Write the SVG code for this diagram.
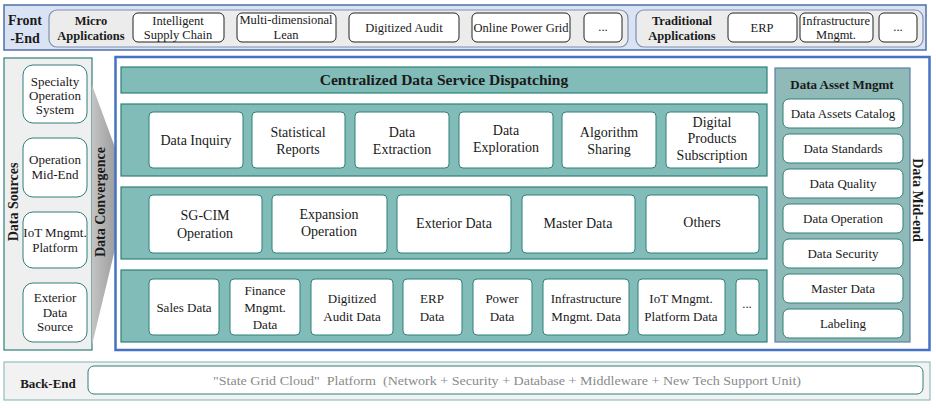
<svg xmlns="http://www.w3.org/2000/svg" width="936" height="408" viewBox="0 0 936 408">
<defs>
<linearGradient id="conv" x1="0" y1="0" x2="1" y2="0">
<stop offset="0" stop-color="#c4c4c4"/>
<stop offset="1" stop-color="#9c9c9c"/>
</linearGradient>
<style>
text{font-family:"Liberation Serif","Times New Roman",serif;fill:#1a1a1a;text-anchor:middle}
.b{font-weight:bold}
.t12{font-size:12.5px}
.t13{font-size:13px}
.t14{font-size:14px}
.wb{fill:#fff;stroke:#222;stroke-width:1}
.tb{fill:#fff;stroke:#2e8079;stroke-width:1}
.band{fill:#82bcb8;stroke:#2e8079;stroke-width:1.2}
.sub{fill:#ececec;stroke:#7d8fb3;stroke-width:1.2}
</style>
</defs>
<rect width="936" height="408" fill="#fff"/>

<!-- Front-End -->
<g id="front-end">
<rect x="4" y="5" width="922" height="45" fill="#dae3f3" stroke="#4f6fa8" stroke-width="1.5"/>
<text class="b t14" x="25" y="25">Front</text>
<text class="b t14" x="25" y="43">-End</text>
</g>
<g id="micro-apps">
<rect class="sub" x="49" y="10" width="579" height="37" rx="8"/>
<text class="b t12" x="91" y="25">Micro</text>
<text class="b t12" x="91" y="40">Applications</text>
</g>
<g id="fe-supply"><rect class="wb" x="133" y="13" width="91" height="29" rx="5"/><text class="t12" x="178" y="25">Intelligent</text><text class="t12" x="178" y="39">Supply Chain</text></g>
<g id="fe-lean"><rect class="wb" x="237" y="13" width="99" height="29" rx="5"/><text class="t12" x="286" y="24">Multi-dimensional</text><text class="t12" x="286" y="39">Lean</text></g>
<g id="fe-audit"><rect class="wb" x="349" y="13" width="110" height="29" rx="5"/><text class="t12" x="404" y="32">Digitized Audit</text></g>
<g id="fe-grid"><rect class="wb" x="472" y="13" width="98" height="29" rx="5"/><text class="t12" x="521" y="32">Online Power Grid</text></g>
<g id="fe-more1"><rect class="wb" x="584" y="13" width="38" height="29" rx="5"/><text class="t12" x="603" y="31">...</text></g>
<g id="trad-apps">
<rect class="sub" x="636" y="10" width="287" height="37" rx="8"/>
<text class="b t12" x="682" y="25">Traditional</text>
<text class="b t12" x="682" y="40">Applications</text>
</g>
<g id="fe-erp"><rect class="wb" x="728" y="13" width="69" height="29" rx="5"/><text class="t12" x="762" y="32">ERP</text></g>
<g id="fe-infra"><rect class="wb" x="800" y="13" width="73" height="29" rx="5"/><text class="t12" x="836" y="25">Infrastructure</text><text class="t12" x="836" y="39">Mngmt.</text></g>
<g id="fe-more2"><rect class="wb" x="879" y="13" width="38" height="29" rx="5"/><text class="t12" x="898" y="31">...</text></g>

<!-- Data Sources -->
<g id="data-sources">
<rect x="4" y="58" width="88" height="292" fill="#efefef" stroke="#2e8079" stroke-width="1.2"/>
<text class="b t14" transform="translate(18,202) rotate(-90)">Data Sources</text>
</g>
<g id="src-specialty"><rect class="tb" x="23" y="65" width="64" height="58" rx="10"/><text class="t13" x="55" y="86">Specialty</text><text class="t13" x="55" y="100">Operation</text><text class="t13" x="55" y="114">System</text></g>
<g id="src-midend"><rect class="tb" x="23" y="138" width="64" height="59" rx="10"/><text class="t13" x="55" y="164">Operation</text><text class="t13" x="55" y="179">Mid-End</text></g>
<g id="src-iot"><rect class="tb" x="23" y="212" width="64" height="56" rx="10"/><text class="t13" x="55" y="237">IoT Mngmt.</text><text class="t13" x="55" y="252">Platform</text></g>
<g id="src-exterior"><rect class="tb" x="23" y="283" width="64" height="59" rx="10"/><text class="t13" x="55" y="302">Exterior</text><text class="t13" x="55" y="317">Data</text><text class="t13" x="55" y="331">Source</text></g>

<!-- Data Convergence -->
<g id="data-convergence">
<polygon points="92,85 116,150 116,245 92,345" fill="url(#conv)"/>
<text class="b t14" transform="translate(105,202) rotate(-90)">Data Convergence</text>
</g>

<!-- Data Mid-end -->
<g id="data-mid-end">
<rect x="115.5" y="57" width="814" height="293" fill="#fff" stroke="#4472c4" stroke-width="2.5"/>
<text class="b t14" transform="translate(913,200) rotate(90)">Data Mid-end</text>
</g>
<g id="dispatching">
<rect class="band" x="121" y="67" width="646" height="26"/>
<text class="b" style="font-size:15.5px" x="444" y="85">Centralized Data Service Dispatching</text>
</g>

<g id="row-services"><rect class="band" x="121" y="104" width="646" height="72"/></g>
<g id="svc-inquiry"><rect class="tb" x="149" y="112" width="94" height="56" rx="4"/><text class="t14" x="196" y="145">Data Inquiry</text></g>
<g id="svc-stat"><rect class="tb" x="252" y="112" width="93" height="56" rx="4"/><text class="t14" x="298" y="137">Statistical</text><text class="t14" x="298" y="154">Reports</text></g>
<g id="svc-extract"><rect class="tb" x="355" y="112" width="94" height="56" rx="4"/><text class="t14" x="402" y="137">Data</text><text class="t14" x="402" y="154">Extraction</text></g>
<g id="svc-explore"><rect class="tb" x="459" y="112" width="94" height="56" rx="4"/><text class="t14" x="506" y="135">Data</text><text class="t14" x="506" y="152">Exploration</text></g>
<g id="svc-algo"><rect class="tb" x="562" y="112" width="94" height="56" rx="4"/><text class="t14" x="609" y="137">Algorithm</text><text class="t14" x="609" y="154">Sharing</text></g>
<g id="svc-digital"><rect class="tb" x="666" y="112" width="93" height="56" rx="4"/><text class="t14" x="712" y="127">Digital</text><text class="t14" x="712" y="143">Products</text><text class="t14" x="712" y="160">Subscription</text></g>

<g id="row-themes"><rect class="band" x="121" y="187" width="646" height="72"/></g>
<g id="th-sgcim"><rect class="tb" x="149" y="195" width="113" height="58" rx="4"/><text class="t14" x="205" y="220">SG-CIM</text><text class="t14" x="205" y="238">Operation</text></g>
<g id="th-expansion"><rect class="tb" x="272" y="195" width="115" height="58" rx="4"/><text class="t14" x="329" y="219">Expansion</text><text class="t14" x="329" y="236">Operation</text></g>
<g id="th-exterior"><rect class="tb" x="397" y="195" width="114" height="58" rx="4"/><text class="t14" x="454" y="228">Exterior Data</text></g>
<g id="th-master"><rect class="tb" x="522" y="195" width="113" height="58" rx="4"/><text class="t14" x="578" y="228">Master Data</text></g>
<g id="th-others"><rect class="tb" x="646" y="195" width="113" height="58" rx="4"/><text class="t14" x="702" y="227">Others</text></g>

<g id="row-sources"><rect class="band" x="121" y="270" width="646" height="72"/></g>
<g id="ds-sales"><rect class="tb" x="149" y="279" width="70" height="56" rx="4"/><text class="t13" x="184" y="312">Sales Data</text></g>
<g id="ds-finance"><rect class="tb" x="230" y="279" width="70" height="56" rx="4"/><text class="t13" x="265" y="295">Finance</text><text class="t13" x="265" y="312">Mngmt.</text><text class="t13" x="265" y="329">Data</text></g>
<g id="ds-audit"><rect class="tb" x="311" y="279" width="82" height="56" rx="4"/><text class="t13" x="352" y="303">Digitized</text><text class="t13" x="352" y="321">Audit Data</text></g>
<g id="ds-erp"><rect class="tb" x="403" y="279" width="59" height="56" rx="4"/><text class="t13" x="432" y="303">ERP</text><text class="t13" x="432" y="321">Data</text></g>
<g id="ds-power"><rect class="tb" x="473" y="279" width="59" height="56" rx="4"/><text class="t13" x="502" y="303">Power</text><text class="t13" x="502" y="321">Data</text></g>
<g id="ds-infra"><rect class="tb" x="543" y="279" width="86" height="56" rx="4"/><text class="t13" x="586" y="303">Infrastructure</text><text class="t13" x="586" y="321">Mngmt. Data</text></g>
<g id="ds-iot"><rect class="tb" x="638" y="279" width="87" height="56" rx="4"/><text class="t13" x="681" y="303">IoT Mngmt.</text><text class="t13" x="681" y="321">Platform Data</text></g>
<g id="ds-more"><rect class="tb" x="736" y="279" width="23" height="56" rx="4"/><text class="t12" x="747" y="308">...</text></g>

<!-- Data Asset Mngmt -->
<g id="asset-mngmt">
<rect x="775" y="68" width="135" height="274" fill="#8fbab8" stroke="#5b7fa6" stroke-width="1.2"/>
<text class="b t13" x="842" y="89">Data Asset Mngmt</text>
</g>
<g id="am-catalog"><rect class="tb" x="783" y="99" width="120" height="29" rx="6"/><text class="t13" x="843" y="118">Data Assets Catalog</text></g>
<g id="am-standards"><rect class="tb" x="783" y="134" width="120" height="29" rx="6"/><text class="t13" x="843" y="153">Data Standards</text></g>
<g id="am-quality"><rect class="tb" x="783" y="169" width="120" height="29" rx="6"/><text class="t13" x="843" y="188">Data Quality</text></g>
<g id="am-operation"><rect class="tb" x="783" y="204" width="120" height="29" rx="6"/><text class="t13" x="843" y="223">Data Operation</text></g>
<g id="am-security"><rect class="tb" x="783" y="239" width="120" height="29" rx="6"/><text class="t13" x="843" y="258">Data Security</text></g>
<g id="am-master"><rect class="tb" x="783" y="274" width="120" height="29" rx="6"/><text class="t13" x="843" y="293">Master Data</text></g>
<g id="am-labeling"><rect class="tb" x="783" y="309" width="120" height="29" rx="6"/><text class="t13" x="843" y="328">Labeling</text></g>

<!-- Back-End -->
<g id="back-end">
<rect x="4" y="362" width="926" height="38" fill="#f2f2f2" stroke="#8fc0bc" stroke-width="1.2"/>
<text class="b t13" x="48" y="388">Back-End</text>
</g>
<g id="platform">
<rect class="tb" x="88" y="366" width="835" height="28" rx="6"/>
<text class="t13" x="507" y="385" style="fill:#8a8a8a" xml:space="preserve" textLength="588" lengthAdjust="spacingAndGlyphs">"State Grid Cloud"  Platform  (Network + Security + Database + Middleware + New Tech Support Unit)</text>
</g>
<g id="connectors"></g>
</svg>
